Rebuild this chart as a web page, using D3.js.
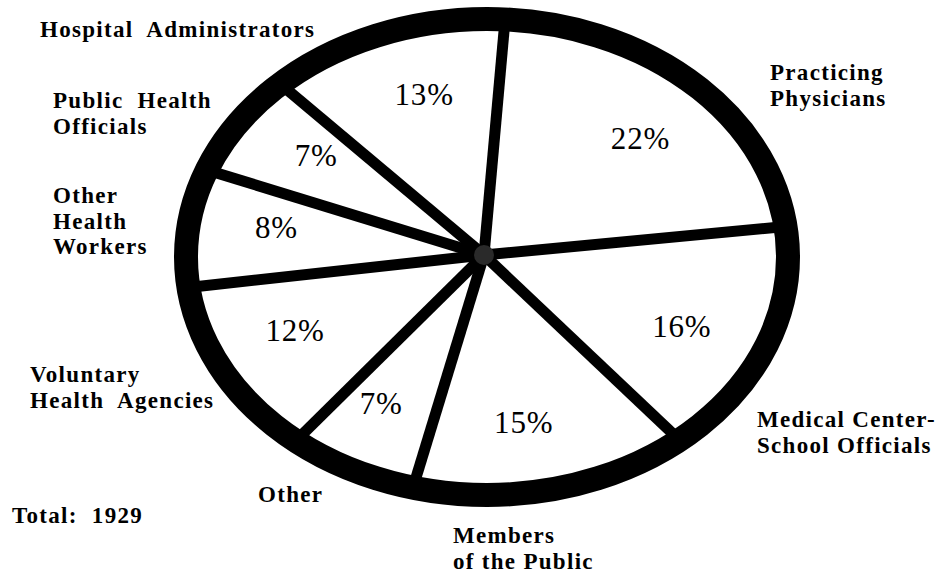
<!DOCTYPE html>
<html>
<head>
<meta charset="utf-8">
<script src="https://cdn.jsdelivr.net/npm/d3@7"></script>
<style>
  body { margin: 0; background: #fff; }
  svg { display: block; }
  .cat { font-family: "Liberation Serif", serif; font-weight: bold; font-size: 23px; letter-spacing: 1.3px; fill: #000; }
  .pct { font-family: "Liberation Serif", serif; font-size: 31px; letter-spacing: 0.8px; fill: #000; }
</style>
</head>
<body>
<div></div>
<script>
// slices, clockwise from the top
const categories = [
  "Practicing Physicians",
  "Medical Center-School Officials",
  "Members of the Public",
  "Other",
  "Voluntary Health Agencies",
  "Other Health Workers",
  "Public Health Officials",
  "Hospital Administrators"
];
const shares = [22, 16, 15, 7, 12, 8, 7, 13];
const totalLabel = "Total: 1929";

// label lines and where each block sits (layout only)
const labelLines = [
  ["Practicing", "Physicians"],
  ["Medical Center-", "School Officials"],
  ["Members", "of the Public"],
  ["Other"],
  ["Voluntary", "Health  Agencies"],
  ["Other", "Health", "Workers"],
  ["Public  Health", "Officials"],
  ["Hospital  Administrators"]
];
const labelPos = [
  [770, 80], [757, 427], [453, 543], [258, 502],
  [30, 382], [53, 203], [53, 108], [40, 37]
];

const width = 940;
const height = 574;
const cx = 487, cy = 257;
const rx = 301, ry = 238;   // middle of the rim
const rim = 24;
const spokeW = 11;

const svg = d3.select("div")
  .append("svg")
  .attr("width", width)
  .attr("height", height);

// pie angles, then squashed onto the ellipse
const start = 0.06;
const pie = d3.pie().sort(null).startAngle(start).endAngle(start + 2 * Math.PI);
const arcs = pie(shares);

const px = (a, f) => cx + rx * f * Math.sin(a);
const py = (a, f) => cy - ry * f * Math.cos(a);

// spokes
svg.append("g")
  .selectAll("line")
  .data(arcs)
  .enter()
  .append("line")
  .attr("x1", cx - 3)
  .attr("y1", cy - 2)
  .attr("x2", (d) => px(d.startAngle, 1))
  .attr("y2", (d) => py(d.startAngle, 1))
  .attr("stroke", "#000")
  .attr("stroke-width", spokeW);

// rim
svg.append("ellipse")
  .attr("cx", cx)
  .attr("cy", cy)
  .attr("rx", rx)
  .attr("ry", ry)
  .attr("fill", "none")
  .attr("stroke", "#000")
  .attr("stroke-width", rim);

// hub
svg.append("circle")
  .attr("cx", cx - 3)
  .attr("cy", cy - 2)
  .attr("r", 10)
  .attr("fill", "#2a2a2a");

// percentages
const labelR = 0.71;
const shift = 0.05;
svg.append("g")
  .selectAll("text")
  .data(arcs)
  .enter()
  .append("text")
  .attr("class", "pct")
  .attr("text-anchor", "middle")
  .attr("x", (d) => px((d.startAngle + d.endAngle) / 2 + shift, labelR))
  .attr("y", (d) => py((d.startAngle + d.endAngle) / 2 + shift, labelR) + 10)
  .text((d) => d.data + "%");

// category labels
const cat = svg.append("g")
  .selectAll("text")
  .data(categories)
  .enter()
  .append("text")
  .attr("class", "cat")
  .attr("x", (d, i) => labelPos[i][0])
  .attr("y", (d, i) => labelPos[i][1])
  .style("white-space", "pre");

cat.each(function (d, i) {
  const t = d3.select(this);
  labelLines[i].forEach((line, j) => {
    t.append("tspan")
      .attr("x", labelPos[i][0])
      .attr("dy", j === 0 ? 0 : 25.5)
      .text(line);
  });
});

svg.append("text")
  .attr("class", "cat")
  .attr("x", 12)
  .attr("y", 523)
  .style("white-space", "pre")
  .text(totalLabel.replace(" ", "  "));
</script>
</body>
</html>
